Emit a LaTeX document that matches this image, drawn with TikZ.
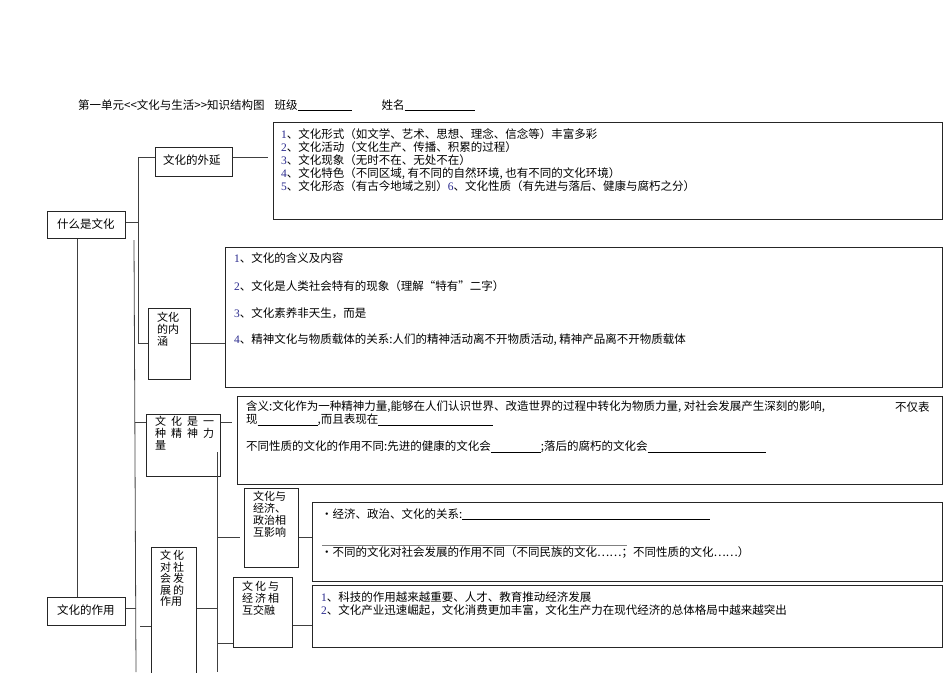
\documentclass[tikz,border=0pt]{standalone}
\usepackage{fontspec}
\setmainfont{Noto Sans CJK SC}
\newfontfamily\numfont{Liberation Serif}
\definecolor{numblue}{RGB}{40,40,140}
\newcommand{\nb}[1]{{\numfont\color{numblue}#1}}
\newcommand{\blank}[1]{\rule[-1.5pt]{#1}{0.5pt}}
\begin{document}
\begin{tikzpicture}[x=1pt,y=-1pt,
  box/.style={draw=black!85,line width=0.9pt,anchor=north west,inner sep=0pt},
  conn/.style={draw=black!75,line width=0.8pt},
  txt/.style={anchor=west,inner sep=0pt,font=\fontsize{11.5}{13}\selectfont},
  vtxt/.style={anchor=north west,inner sep=0pt,align=left,font=\fontsize{11}{12}\selectfont}]
\useasboundingbox (0,0) rectangle (950,672);
% title
\node[txt] (title) at (78,105) {第一单元{<}{<}文化与生活{>}{>}知识结构图\hspace{10pt}班级\blank{54pt}\hspace{30pt}姓名\blank{70pt}};
% left boxes
\node[box,minimum width=78pt,minimum height=27pt] (what) at (47,211) {};
\node[txt] at (57,224) {什么是文化};
\node[box,minimum width=78pt,minimum height=28pt] (role) at (47,597) {};
\node[txt] at (57,610) {文化的作用};
% 外延
\node[box,minimum width=77pt,minimum height=29pt] (wy) at (155,147) {};
\node[txt] at (163,160) {文化的外延};
\node[box,minimum width=669pt,minimum height=97pt] (b1) at (273,122) {};
\node[vtxt,font=\fontsize{11.5}{13}\selectfont] at (281,128) {\nb{1}、文化形式（如文学、艺术、思想、理念、信念等）丰富多彩\\
\nb{2}、文化活动（文化生产、传播、积累的过程）\\
\nb{3}、文化现象（无时不在、无处不在）\\
\nb{4}、文化特色（不同区域, 有不同的自然环境, 也有不同的文化环境）\\
\nb{5}、文化形态（有古今地域之别）\nb{6}、文化性质（有先进与落后、健康与腐朽之分）};
% 内涵
\node[box,minimum width=42pt,minimum height=71pt] (nh) at (148,308) {};
\node[vtxt] at (157,312) {文化\\的内\\涵};
\node[box,minimum width=717pt,minimum height=140pt] (b2) at (225,247) {};
\node[txt] at (234,258) {\nb{1}、文化的含义及内容};
\node[txt] at (234,286) {\nb{2}、文化是人类社会特有的现象（理解“特有”二字）};
\node[txt] at (234,313) {\nb{3}、文化素养非天生，而是};
\node[txt] at (234,340) {\nb{4}、精神文化与物质载体的关系:人们的精神活动离不开物质活动, 精神产品离不开物质载体};
% 精神力量
\node[box,minimum width=74pt,minimum height=62pt] (jl) at (146,414) {};
\node[vtxt] at (155,416) {文\hspace{5pt}化\hspace{5pt}是\hspace{5pt}一\\种\hspace{5pt}精\hspace{5pt}神\hspace{5pt}力\\量};
\node[box,minimum width=705pt,minimum height=88pt] (b3) at (237,396) {};
\node[txt] at (246,407) {含义:文化作为一种精神力量,能够在人们认识世界、改造世界的过程中转化为物质力量, 对社会发展产生深刻的影响,};
\node[txt] at (895,407) {不仅表};
\node[txt] at (246,420) {现\blank{60pt},而且表现在\blank{115pt}};
\node[txt] at (246,447) {不同性质的文化的作用不同:先进的健康的文化会\blank{50pt};落后的腐朽的文化会\blank{118pt}};
% 社会发展
\node[box,minimum width=45pt,minimum height=126pt] (sh) at (151,547) {};
\node[vtxt,font=\fontsize{11}{11.5}\selectfont] at (160,550) {文\hspace{2pt}化\\对\hspace{2pt}社\\会\hspace{2pt}发\\展\hspace{2pt}的\\作用};
% 经济政治相互影响
\node[box,minimum width=54pt,minimum height=79pt] (jz) at (244,488) {};
\node[vtxt] at (253,491) {文化与\\经济、\\政治相\\互影响};
\node[box,minimum width=630pt,minimum height=79pt] (b4) at (312,502) {};
\node[txt] at (321,514) {·经济、政治、文化的关系:\blank{248pt}};
\draw[gray,line width=0.9pt] (322,545) -- (627,545);
\node[txt] at (321,552) {·不同的文化对社会发展的作用不同（不同民族的文化……；不同性质的文化……）};
% 经济相互交融
\node[box,minimum width=59pt,minimum height=70pt] (jr) at (233,577) {};
\node[vtxt] at (242,581) {文\hspace{2pt}化\hspace{2pt}与\\经\hspace{2pt}济\hspace{2pt}相\\互交融};
\node[box,minimum width=630pt,minimum height=62pt] (b5) at (312,585) {};
\node[txt] at (321,597) {\nb{1}、科技的作用越来越重要、人才、教育推动经济发展};
\node[txt] at (321,610) {\nb{2}、文化产业迅速崛起，文化消费更加丰富，文化生产力在现代经济的总体格局中越来越突出};
% connectors
\coordinate (v1t) at (138,157);
\coordinate (v1b) at (138,343);
\draw[conn] (what.east |- 0,222) -- (138,222);
\draw[conn] (v1t) -- (v1b);
\draw[conn] (v1t) -- (wy.west |- v1t);
\draw[conn] (v1b) -- (nh.west |- v1b);
\draw[conn] (wy.east |- 0,157) -- (268,157);
\draw[conn] (nh.east |- 0,343) -- (b2.west |- 0,343);
\draw[conn] (what.south -| 77,0) -- (role.north -| 77,0);
\draw[conn] (134,240) -- (136,672);
\draw[conn] (135,422) -- (jl.west |- 0,422);
\draw[conn] (jl.east |- 0,422) -- (232,422);
\draw[conn] (role.east |- 0,608) -- (136,608);
\draw[conn] (140,626) -- (sh.west |- 0,626);
\draw[conn] (sh.east |- 0,608) -- (217,608);
\draw[conn] (217,452) -- (217,672);
\draw[conn] (217,537) -- (240,537);
\draw[conn] (jz.east |- 0,537) -- (b4.west |- 0,537);
\draw[conn] (217,643) -- (jr.west |- 0,643);
\draw[conn] (jr.east |- 0,625) -- (b5.west |- 0,625);
\end{tikzpicture}
\end{document}
